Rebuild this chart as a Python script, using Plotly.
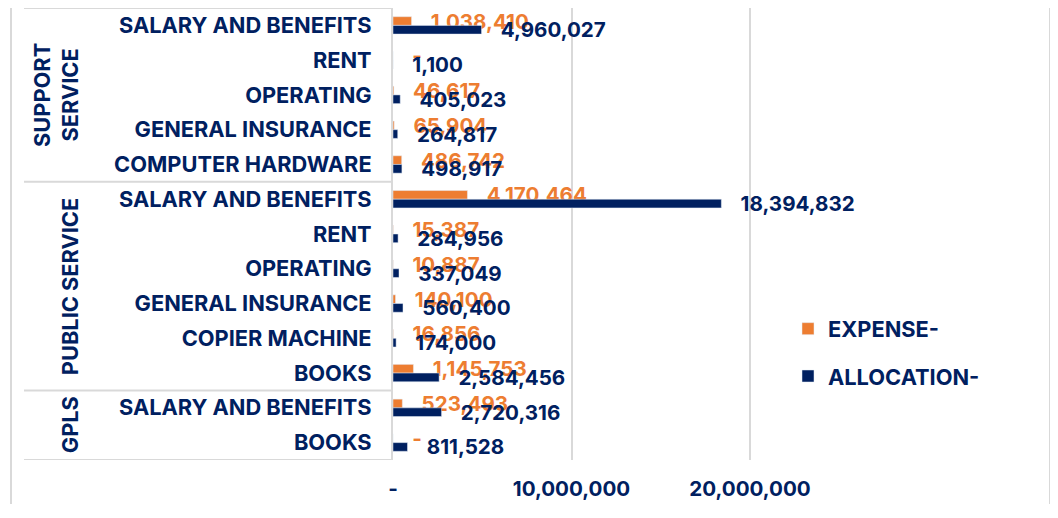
import plotly.graph_objects as go

# Budget lines, top to bottom as they appear in the chart
groups = ["SUPPORT<br>SERVICE", "PUBLIC SERVICE", "GPLS"]
group_sizes = [5, 6, 2]
items = [
    "SALARY AND BENEFITS", "RENT", "OPERATING", "GENERAL INSURANCE", "COMPUTER HARDWARE",
    "SALARY AND BENEFITS", "RENT", "OPERATING", "GENERAL INSURANCE", "COPIER MACHINE", "BOOKS",
    "SALARY AND BENEFITS", "BOOKS",
]
expense = [1038410, 0, 46617, 65904, 486742,
           4170464, 15387, 10887, 140100, 16856, 1145753,
           523493, 0]
allocation = [4960027, 1100, 405023, 264817, 498917,
              18394832, 284956, 337049, 560400, 174000, 2584456,
              2720316, 811528]

x_ticks = [0, 10000000, 20000000]
x_ticktext = ["-", "10,000,000", "20,000,000"]

ORANGE = "#ED7D31"
NAVY = "#002060"
GRID = "#D9D9D9"
FONT = "Inter"
FS_TXT = 21.8   # words
FS_NUM = 20.6   # numbers
PAD = "\u00a0\u00a0\u00a0\u200a"


def fmt(v):
    # accounting style: zero shows as a dash
    return PAD + (f"{v:,}" if v else "-")


pos = list(range(len(items)))

fig = go.Figure()
fig.add_trace(go.Bar(
    name="EXPENSE-", y=pos, x=expense, orientation="h",
    marker_color=ORANGE, legendgroup="e",
    text=[fmt(v) for v in expense], textposition="outside",
    outsidetextfont=dict(family=FONT, size=FS_NUM, color=ORANGE, weight=700),
    constraintext="none", cliponaxis=False,
))
fig.add_trace(go.Bar(
    name="ALLOCATION-", y=pos, x=allocation, orientation="h",
    marker_color=NAVY, legendgroup="a",
    text=[fmt(v) for v in allocation], textposition="outside",
    outsidetextfont=dict(family=FONT, size=FS_NUM, color=NAVY, weight=700),
    constraintext="none", cliponaxis=False,
))

# page body adds an 8px offset, so the figure is laid out 8px up/left
OFF = 8
W, H = 1058 - OFF, 496
L, T = 393 - OFF, 8 - OFF
pw, ph = 360, 452
R = W - L - pw
B = H - T - ph
x_max = 20000000 * pw / 357  # keeps the 20M gridline inside the plot


def px_to_paper(px):
    return (px - OFF - L) / pw


def py_to_paper(py):
    return 1 - (py - OFF - T) / ph


# group divider lines on the category axis
bounds = [-0.5]
for n in group_sizes:
    bounds.append(bounds[-1] + n)
shapes = []
for b in bounds:
    shapes.append(dict(type="line", xref="paper", yref="y",
                       x0=px_to_paper(24), x1=0, y0=b, y1=b,
                       line=dict(color=GRID, width=2)))
# outer chart border (left / right)
for xp in [11, 1050]:
    shapes.append(dict(type="line", xref="paper", yref="paper",
                       x0=px_to_paper(xp), x1=px_to_paper(xp), y0=-0.2, y1=1.1,
                       line=dict(color=GRID, width=2)))

annotations = []
for g, lo, hi in zip(groups, bounds[:-1], bounds[1:]):
    annotations.append(dict(
        text=g, textangle=-90, xref="paper", yref="y",
        x=px_to_paper(85), y=(lo + hi) / 2, xanchor="right", yanchor="middle",
        showarrow=False, align="center",
        font=dict(family=FONT, size=FS_TXT, color=NAVY, weight=700),
    ))

fig.update_layout(
    width=W, height=H,
    margin=dict(l=L, r=R, t=T, b=B, autoexpand=False),
    barmode="group", bargap=0.5, bargroupgap=0,
    plot_bgcolor="white", paper_bgcolor="white",
    shapes=shapes, annotations=annotations,
    legend=dict(
        x=px_to_paper(788), y=py_to_paper(308),
        xanchor="left", yanchor="top", tracegroupgap=16,
        font=dict(family=FONT, size=FS_TXT, color=NAVY, weight=700),
        bgcolor="rgba(0,0,0,0)",
    ),
    xaxis=dict(
        range=[0, x_max], tickvals=x_ticks, ticktext=x_ticktext,
        showgrid=True, gridcolor=GRID, gridwidth=2, zeroline=False,
        showline=False, ticklabelstandoff=14, automargin=False,
        tickfont=dict(family=FONT, size=FS_NUM, color=NAVY, weight=700),
    ),
    yaxis=dict(
        range=[12.5, -0.5], tickvals=pos, ticktext=items,
        showgrid=False, zeroline=False,
        showline=True, linecolor=GRID, linewidth=2,
        ticklabelstandoff=15, automargin=False,
        tickfont=dict(family=FONT, size=FS_TXT, color=NAVY, weight=700),
    ),
)

fig.write_html("out.html")
